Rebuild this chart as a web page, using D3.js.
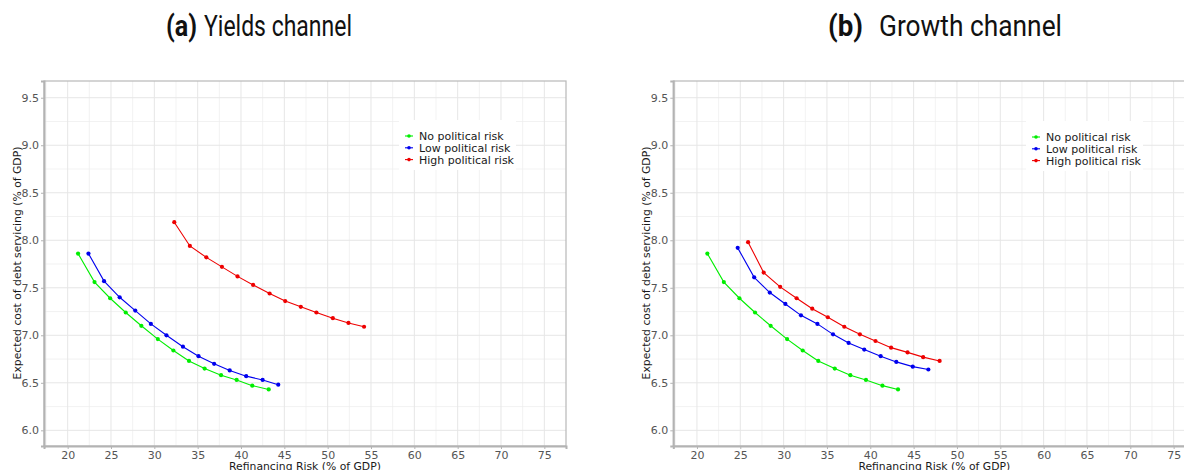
<!DOCTYPE html>
<html>
<head>
<meta charset="utf-8">
<script src="https://cdnjs.cloudflare.com/ajax/libs/d3/7.8.5/d3.min.js"></script>
<style>
  body { margin: 0; background: #fff; }
  svg { display: block; }
</style>
</head>
<body>
<svg id="chart" width="1184" height="470"></svg>
<script>
// Series
const seriesNames = ["No political risk", "Low political risk", "High political risk"];
const seriesColors = ["#00ee00", "#0000ee", "#ee0000"];

// (a) Yields channel
const yieldsNoX   = [21.2, 23.1, 24.9, 26.7, 28.5, 30.4, 32.2, 34.0, 35.8, 37.7, 39.5, 41.3, 43.2];
const yieldsNoY   = [7.86, 7.56, 7.39, 7.24, 7.10, 6.96, 6.84, 6.73, 6.65, 6.58, 6.53, 6.47, 6.43];
const yieldsLowX  = [22.4, 24.2, 26.0, 27.8, 29.6, 31.4, 33.3, 35.1, 36.9, 38.7, 40.6, 42.5, 44.3];
const yieldsLowY  = [7.86, 7.57, 7.40, 7.26, 7.12, 7.00, 6.88, 6.78, 6.70, 6.63, 6.57, 6.53, 6.48];
const yieldsHighX = [32.3, 34.1, 36.0, 37.8, 39.6, 41.4, 43.3, 45.1, 46.9, 48.7, 50.6, 52.4, 54.2];
const yieldsHighY = [8.19, 7.94, 7.82, 7.72, 7.62, 7.53, 7.44, 7.36, 7.30, 7.24, 7.18, 7.13, 7.09];

// (b) Growth channel
const growthNoX   = [21.2, 23.1, 24.9, 26.7, 28.5, 30.4, 32.2, 34.0, 35.9, 37.7, 39.5, 41.4, 43.2];
const growthNoY   = [7.86, 7.56, 7.39, 7.24, 7.10, 6.96, 6.84, 6.73, 6.65, 6.58, 6.53, 6.47, 6.43];
const growthLowX  = [24.7, 26.6, 28.4, 30.2, 32.0, 33.9, 35.7, 37.5, 39.3, 41.2, 43.0, 44.9, 46.7];
const growthLowY  = [7.92, 7.61, 7.45, 7.33, 7.21, 7.12, 7.01, 6.92, 6.85, 6.78, 6.72, 6.67, 6.64];
const growthHighX = [25.9, 27.7, 29.6, 31.5, 33.3, 35.1, 37.0, 38.8, 40.6, 42.4, 44.3, 46.1, 48.0];
const growthHighY = [7.98, 7.66, 7.51, 7.39, 7.28, 7.19, 7.09, 7.01, 6.94, 6.87, 6.82, 6.77, 6.73];

const xTicks = [20, 25, 30, 35, 40, 45, 50, 55, 60, 65, 70, 75];
const yTicks = [6.0, 6.5, 7.0, 7.5, 8.0, 8.5, 9.0, 9.5];
const xDomain = [17.27, 77.5];
const yDomain = [5.835, 9.676];

const svg = d3.select("#chart");

function zip(xs, ys) {
    return xs.map((x, i) => ({x: x, y: ys[i]}));
}

function drawPanel(cfg) {
    let left = cfg.left, top = 81, width = 522, height = 365;
    let g = svg.append("g").attr("transform", `translate(${left},${top})`);

    let x = d3.scaleLinear().domain(xDomain).range([0, width]);
    let y = d3.scaleLinear().domain(yDomain).range([height, 0]);

    // minor grid (midpoints)
    let xMinor = xTicks.map(t => t - 2.5).concat([77.5]).filter(v => v > xDomain[0] && v < xDomain[1]);
    let yMinor = yTicks.map(t => t + 0.25).filter(v => v > yDomain[0] && v < yDomain[1]);
    g.selectAll(".xminor").data(xMinor).enter().append("line")
        .attr("x1", d => x(d)).attr("x2", d => x(d))
        .attr("y1", 0).attr("y2", height)
        .attr("stroke", "#ededed").attr("stroke-width", 0.7);
    g.selectAll(".yminor").data(yMinor).enter().append("line")
        .attr("x1", 0).attr("x2", width)
        .attr("y1", d => y(d)).attr("y2", d => y(d))
        .attr("stroke", "#ededed").attr("stroke-width", 0.7);
    // major grid
    g.selectAll(".xmajor").data(xTicks).enter().append("line")
        .attr("x1", d => x(d)).attr("x2", d => x(d))
        .attr("y1", 0).attr("y2", height)
        .attr("stroke", "#e6e6e6").attr("stroke-width", 1);
    g.selectAll(".ymajor").data(yTicks).enter().append("line")
        .attr("x1", 0).attr("x2", width)
        .attr("y1", d => y(d)).attr("y2", d => y(d))
        .attr("stroke", "#e6e6e6").attr("stroke-width", 1);

    // border
    g.append("rect")
        .attr("x", 0).attr("y", 0).attr("width", width).attr("height", height)
        .attr("fill", "none").attr("stroke", "#b8b8b8").attr("stroke-width", 1.2);

    // axes
    let xAxis = d3.axisBottom(x).tickValues(xTicks).tickSize(3).tickPadding(2).tickFormat(d3.format("d"));
    let yAxis = d3.axisLeft(y).tickValues(yTicks).tickSize(3).tickPadding(2).tickFormat(d3.format(".1f"));

    let xg = g.append("g").attr("transform", `translate(0,${height})`).call(xAxis);
    let yg = g.append("g").call(yAxis);
    [xg, yg].forEach(a => {
        a.select(".domain").attr("stroke", "#b3b3b3").attr("stroke-width", 2);
        a.selectAll(".tick line").attr("stroke", "#b3b3b3");
        a.selectAll(".tick text")
            .attr("fill", "#555")
            .style("font-family", "DejaVu Sans")
            .style("font-size", "11px");
    });

    // series
    let line = d3.line().x(d => x(d.x)).y(d => y(d.y));
    cfg.series.forEach((s, i) => {
        let pts = zip(s[0], s[1]);
        g.append("path").datum(pts)
            .attr("d", line)
            .attr("fill", "none")
            .attr("stroke", seriesColors[i])
            .attr("stroke-width", 1.1);
        g.selectAll(".pt" + i).data(pts).enter().append("circle")
            .attr("cx", d => x(d.x)).attr("cy", d => y(d.y))
            .attr("r", 2.1)
            .attr("fill", seriesColors[i]);
    });

    // legend
    let lg = g.append("g").attr("transform", `translate(${cfg.legendX - left},${cfg.legendY - top})`);
    lg.append("rect")
        .attr("x", -6).attr("y", -16).attr("width", 117).attr("height", 50)
        .attr("fill", "#fff");
    seriesNames.forEach((n, i) => {
        let row = lg.append("g").attr("transform", `translate(0,${i * 11.8})`);
        row.append("line").attr("x1", 0).attr("x2", 8).attr("y1", 0).attr("y2", 0)
            .attr("stroke", seriesColors[i]).attr("stroke-width", 1.1);
        row.append("circle").attr("cx", 4).attr("cy", 0).attr("r", 1.8).attr("fill", seriesColors[i]);
        row.append("text").attr("x", 14).attr("y", 4)
            .style("font-family", "DejaVu Sans").style("font-size", "11px")
            .attr("fill", "#1a1a1a")
            .text(n);
    });

    // axis titles
    g.append("text")
        .attr("x", width / 2).attr("y", height + 24)
        .attr("text-anchor", "middle")
        .style("font-family", "DejaVu Sans").style("font-size", "10.8px")
        .attr("fill", "#1a1a1a")
        .text("Refinancing Risk (% of GDP)");
    g.append("text")
        .attr("transform", `translate(-23,${height / 2 - 0.5}) rotate(-90)`)
        .attr("text-anchor", "middle")
        .style("font-family", "DejaVu Sans").style("font-size", "10.8px")
        .attr("fill", "#1a1a1a")
        .text("Expected cost of debt servicing (% of GDP)");

    // panel title: bold tag, then the name
    svg.append("text")
        .attr("x", cfg.tagX).attr("y", 36)
        .attr("textLength", cfg.tagW).attr("lengthAdjust", "spacingAndGlyphs")
        .style("font-family", "Roboto").style("font-size", "29px").style("font-weight", "bold")
        .attr("fill", "#111")
        .text(cfg.titleTag);
    svg.append("text")
        .attr("x", cfg.titleX).attr("y", 36)
        .attr("textLength", cfg.titleW).attr("lengthAdjust", "spacingAndGlyphs")
        .style("font-family", "Roboto").style("font-size", "29px")
        .attr("fill", "#111")
        .text(cfg.title);
}

drawPanel({
    left: 44,
    legendX: 405, legendY: 136,
    tagX: 166, tagW: 31, titleTag: "(a)",
    titleX: 204, titleW: 148, title: "Yields channel",
    series: [[yieldsNoX, yieldsNoY], [yieldsLowX, yieldsLowY], [yieldsHighX, yieldsHighY]]
});
drawPanel({
    left: 673.3,
    legendX: 1032, legendY: 137,
    tagX: 828, tagW: 35, titleTag: "(b)",
    titleX: 879, titleW: 183, title: "Growth channel",
    series: [[growthNoX, growthNoY], [growthLowX, growthLowY], [growthHighX, growthHighY]]
});
</script>
</body>
</html>
